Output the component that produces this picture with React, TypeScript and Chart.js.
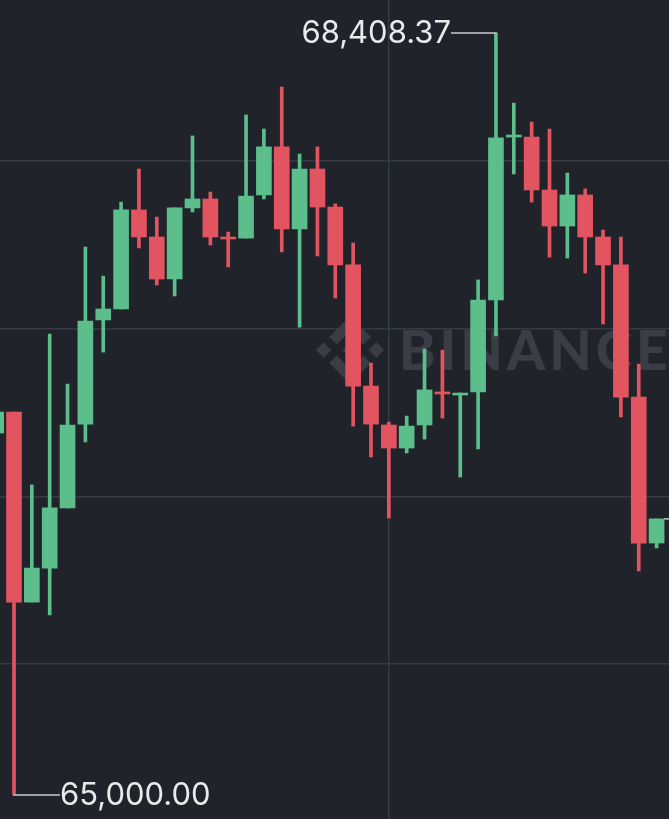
import { useEffect, useRef } from 'react';
import { Chart, registerables } from 'chart.js';

Chart.register(...registerables);

// ---- data ----
const candleIndex = [
  0, 1, 2, 3, 4, 5, 6, 7, 8, 9, 10, 11, 12, 13, 14, 15, 16, 17, 18, 19,
  20, 21, 22, 23, 24, 25, 26, 27, 28, 29, 30, 31, 32, 33, 34, 35, 36, 37,
];
const opens = [
  66619, 66713, 65863, 66015, 66284, 66659, 67125, 67174, 67617, 67496, 67308, 67626, 67666,
  67491, 67491, 67684, 67899, 67532, 67800, 67630, 67371, 66829, 66655, 66552, 66655, 66802,
  66789, 66803, 67214, 67943, 67943, 67706, 67545, 67684, 67496, 67371, 66780, 66127,
];
const highs = [
  66740, 66713, 66387, 67062, 66838, 67451, 67321, 67652, 67800, 67585, 67626, 67948, 67697,
  67518, 68042, 67979, 68167, 67867, 67899, 67644, 67469, 66932, 66668, 66695, 66995, 66990,
  66798, 67304, 68408.37, 68095, 68010, 67979, 67782, 67711, 67527, 67496, 66928, 66235,
];
const lows = [
  66600, 65000, 65863, 65805, 66284, 66579, 66981, 67174, 67447, 67281, 67232, 67608, 67460,
  67362, 67491, 67666, 67429, 67093, 67411, 67223, 66650, 66512, 66239, 66530, 66592, 66686,
  66422, 66548, 67053, 67778, 67652, 67406, 67402, 67335, 67107, 66691, 66002, 66105,
];
const closes = [
  66713, 65863, 66015, 66284, 66655, 67120, 67174, 67617, 67496, 67308, 67626, 67666, 67496,
  67487, 67679, 67899, 67532, 67800, 67630, 67371, 66829, 66659, 66552, 66650, 66812, 66794,
  66798, 67214, 67939, 67952, 67706, 67545, 67684, 67496, 67371, 66780, 66127, 66235,
];
const yGridValues = [65585, 66335, 67085, 67835];
const xGridValues = [22];

// ---- view / style ----
const X_MIN = 0.2157;
const X_MAX = 37.695;
const Y_MIN = 64892.7;
const Y_MAX = 68556;
const W = 669;
const H = 819;
const BG = '#20232a';
const GREEN = '#5bbe8b';
const RED = '#e25460';
const GRID = '#363a42';
const WATERMARK = '#3a3d45';
const LABEL = '#e9eaec';
const LABEL_LINE = '#c9cacc';

const LOGO_PATH =
  'M38.73 53.2l24.59-24.58 24.6 24.6 14.3-14.31L63.32 0 24.42 38.9l14.31 14.3z' +
  'M0 63.31l14.3-14.31 14.31 14.31-14.31 14.3z' +
  'M38.73 73.41l24.59 24.59 24.6-24.6 14.31 14.29-38.9 38.91-38.91-38.88-.02-.02 14.33-14.29z' +
  'M98 63.31l14.3-14.31 14.31 14.3-14.31 14.32z' +
  'M77.83 63.3L63.32 48.78 52.59 59.51l-1.24 1.23-2.54 2.54-.02.02.02.03 14.51 14.5 14.51-14.52.01-.01-.01-.01z';

const fmt = new Intl.NumberFormat('en-US', { minimumFractionDigits: 2, maximumFractionDigits: 2 });

const overlayPlugin = {
  id: 'overlay',
  beforeDatasetsDraw(chart: any) {
    const { ctx, chartArea } = chart;
    ctx.save();
    ctx.fillStyle = WATERMARK;
    ctx.translate(chartArea.left + 316, chartArea.top + 316);
    ctx.scale(0.537, 0.537);
    ctx.fill(new Path2D(LOGO_PATH));
    ctx.restore();

    ctx.save();
    ctx.fillStyle = WATERMARK;
    ctx.font = '900 55px Lato';
    (ctx as any).letterSpacing = '4px';
    ctx.textBaseline = 'alphabetic';
    ctx.textAlign = 'left';
    ctx.fillText('BINANCE', chartArea.left + 399, chartArea.top + 370);
    ctx.restore();
  },
  afterDatasetsDraw(chart: any) {
    const { ctx, chartArea } = chart;
    const xs = chart.scales.x;
    const ys = chart.scales.y;
    let hiI = 0;
    let loI = 0;
    highs.forEach((v, i) => { if (v > highs[hiI]) hiI = i; });
    lows.forEach((v, i) => { if (v < lows[loI]) loI = i; });

    ctx.save();
    ctx.font = '31px Inter';
    ctx.textBaseline = 'middle';
    ctx.strokeStyle = LABEL_LINE;
    ctx.lineWidth = 1.5;
    ctx.fillStyle = LABEL;

    // high label (to the left)
    const hx = xs.getPixelForValue(candleIndex[hiI]);
    const hy = ys.getPixelForValue(highs[hiI]);
    ctx.beginPath();
    ctx.moveTo(hx + 0.75, hy);
    ctx.lineTo(hx - 45, hy);
    ctx.stroke();
    ctx.textAlign = 'right';
    ctx.fillText(fmt.format(highs[hiI]), hx - 45, hy + 1);

    // low label (to the right)
    const lx = xs.getPixelForValue(candleIndex[loI]);
    const ly = ys.getPixelForValue(lows[loI]);
    ctx.beginPath();
    ctx.moveTo(lx - 0.75, ly);
    ctx.lineTo(lx + 46, ly);
    ctx.stroke();
    ctx.textAlign = 'left';
    ctx.fillText(fmt.format(lows[loI]), lx + 46, ly + 1);

    // last price line
    const last = candleIndex.length - 1;
    const px = xs.getPixelForValue(candleIndex[last]) + 7.5;
    const py = ys.getPixelForValue(closes[last]);
    ctx.beginPath();
    ctx.moveTo(px, py);
    ctx.lineTo(chartArea.right, py);
    ctx.stroke();
    ctx.restore();
  },
};

export default function App() {
  const canvasRef = useRef<HTMLCanvasElement | null>(null);

  useEffect(() => {
    document.body.style.margin = '0';
    document.body.style.background = BG;
    const canvas = canvasRef.current;
    if (!canvas) return;
    const colors = candleIndex.map((_, i) => (closes[i] >= opens[i] ? GREEN : RED));
    const chart = new Chart(canvas, {
      type: 'bar',
      data: {
        datasets: [
          {
            label: 'body',
            data: candleIndex.map((x, i) => ({ x, y: [opens[i], closes[i]] })) as any,
            backgroundColor: colors,
            borderWidth: 0,
            barThickness: 15,
            minBarLength: 2,
            grouped: false,
          } as any,
          {
            label: 'wick',
            data: candleIndex.map((x, i) => ({ x, y: [lows[i], highs[i]] })) as any,
            backgroundColor: colors,
            borderWidth: 0,
            barThickness: 3,
            grouped: false,
          } as any,
        ],
      },
      options: {
        animation: false,
        responsive: false,
        maintainAspectRatio: false,
        layout: { padding: 0 },
        plugins: { legend: { display: false }, tooltip: { enabled: false } },
        scales: {
          x: {
            type: 'linear',
            min: X_MIN,
            max: X_MAX,
            offset: false,
            ticks: { display: false },
            border: { display: false },
            grid: { color: GRID, lineWidth: 1.5, drawTicks: false, offset: false },
            afterBuildTicks: (s: any) => { s.ticks = xGridValues.map((v) => ({ value: v })); },
          },
          y: {
            type: 'linear',
            min: Y_MIN,
            max: Y_MAX,
            beginAtZero: false,
            ticks: { display: false },
            border: { display: false },
            grid: { color: GRID, lineWidth: 1.5, drawTicks: false },
            afterBuildTicks: (s: any) => { s.ticks = yGridValues.map((v) => ({ value: v })); },
          },
        },
      } as any,
      plugins: [overlayPlugin],
    });
    return () => chart.destroy();
  }, []);

  return (
    <div style={{ width: W, height: H, background: BG }}>
      <canvas ref={canvasRef} width={W} height={H} style={{ display: 'block', width: W, height: H }} />
    </div>
  );
}
